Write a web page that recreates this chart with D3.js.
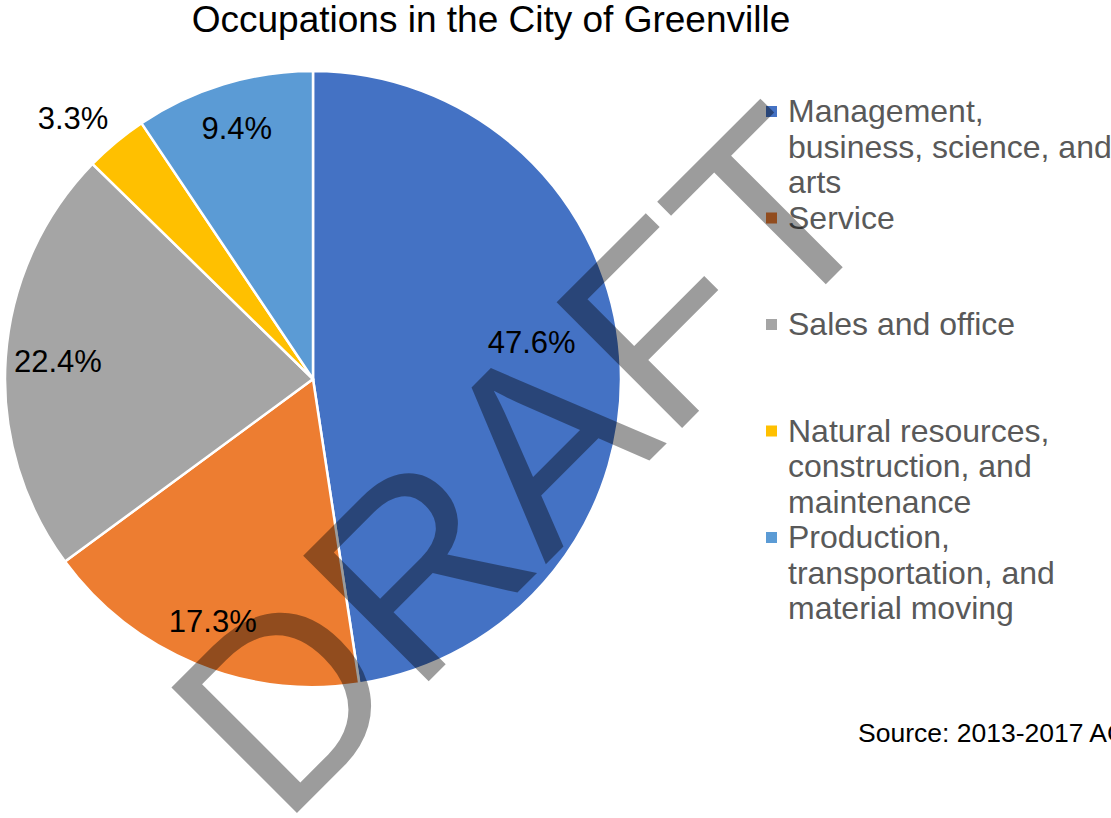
<!DOCTYPE html>
<html>
<head>
<meta charset="utf-8">
<script src="https://cdn.jsdelivr.net/npm/d3@7"></script>
<style>
  body { margin: 0; background: #fff; overflow: hidden; }
  text { font-family: "Liberation Sans", Arial, sans-serif; }
</style>
</head>
<body>
<script>
//Data
var categories = ["Management, business, science, and arts", "Service", "Sales and office",
                  "Natural resources, construction, and maintenance",
                  "Production, transportation, and material moving"];
var legendLines = [["Management,", "business, science, and", "arts"],
                   ["Service"],
                   ["Sales and office"],
                   ["Natural resources,", "construction, and", "maintenance"],
                   ["Production,", "transportation, and", "material moving"]];
var values = [47.6, 17.3, 22.4, 3.3, 9.4];
var colorList = ["#4472C4", "#ED7D31", "#A5A5A5", "#FFC000", "#5B9BD5"];

var data = categories.map(function(c, i) { return {name: c, value: values[i], lines: legendLines[i]}; });

//Define SVG
var width = 1111, height = 818;
var svg = d3.select("body")
    .append("svg")
    .attr("width", width)
    .attr("height", height);

//Title
svg.append("text")
    .attr("x", 491)
    .attr("y", 32)
    .style("text-anchor", "middle")
    .attr("font-size", "37px")
    .attr("fill", "#000")
    .text("Occupations in the City of Greenville");

//Define Pie
var cx = 313, cy = 379, radius = 308;
var color = d3.scaleOrdinal().domain(categories).range(colorList);
var pie = d3.pie().sort(null).value(function(d) { return d.value; });
var arc = d3.arc().innerRadius(0).outerRadius(radius);

var g = svg.append("g")
    .attr("transform", "translate(" + cx + "," + cy + ")");

g.selectAll(".slice")
    .data(pie(data))
    .enter().append("path")
    .attr("class", "slice")
    .attr("d", arc)
    .attr("fill", function(d) { return color(d.data.name); })
    .attr("stroke", "#fff")
    .attr("stroke-width", 2.5);

//Slice labels (best fit: small slice outside, big one pulled in)
function labelPos(d) {
    var a = (d.startAngle + d.endAngle) / 2, r = radius * 0.85;
    if (d.data.value < 5) { r = radius * 1.15; a -= 0.05; }
    else if (d.data.value > 40) { r = radius * 0.72; a -= 0.09; }
    else if (d.data.value > 20) { r = radius * 0.83; }
    return [Math.sin(a) * r, -Math.cos(a) * r];
}
g.selectAll(".plabel")
    .data(pie(data))
    .enter().append("text")
    .attr("class", "plabel")
    .attr("transform", function(d) { return "translate(" + labelPos(d) + ")"; })
    .attr("dy", "0.35em")
    .style("text-anchor", "middle")
    .attr("font-size", "31px")
    .attr("fill", "#000")
    .text(function(d) { return d3.format(".1f")(d.data.value) + "%"; });

//Legend
var legendY = d3.scalePoint().domain(categories).range([122, 548]);
var legend = svg.selectAll(".legend")
    .data(data)
    .enter().append("g")
    .attr("class", "legend")
    .attr("transform", function(d) { return "translate(766," + legendY(d.name) + ")"; });

legend.append("rect")
    .attr("x", 0)
    .attr("y", -16)
    .attr("width", 11)
    .attr("height", 11)
    .attr("fill", function(d) { return color(d.name); });

legend.append("text")
    .attr("x", 22)
    .attr("font-size", "32px")
    .attr("fill", "#595959")
    .selectAll("tspan")
    .data(function(d) { return d.lines; })
    .enter().append("tspan")
    .attr("x", 22)
    .attr("y", function(d, i) { return i * 35.5; })
    .text(function(d) { return d; });

//Source note
svg.append("text")
    .attr("x", 858)
    .attr("y", 742)
    .attr("font-size", "26.5px")
    .attr("fill", "#000")
    .text("Source: 2013-2017 ACS 5-Year Estimates");

//Watermark
svg.append("text")
    .attr("transform", "translate(586,524) rotate(-45)")
    .style("text-anchor", "middle")
    .attr("font-size", "258px")
    .attr("fill", "#000")
    .attr("fill-opacity", 0.39)
    .text("DRAFT");
</script>
</body>
</html>
